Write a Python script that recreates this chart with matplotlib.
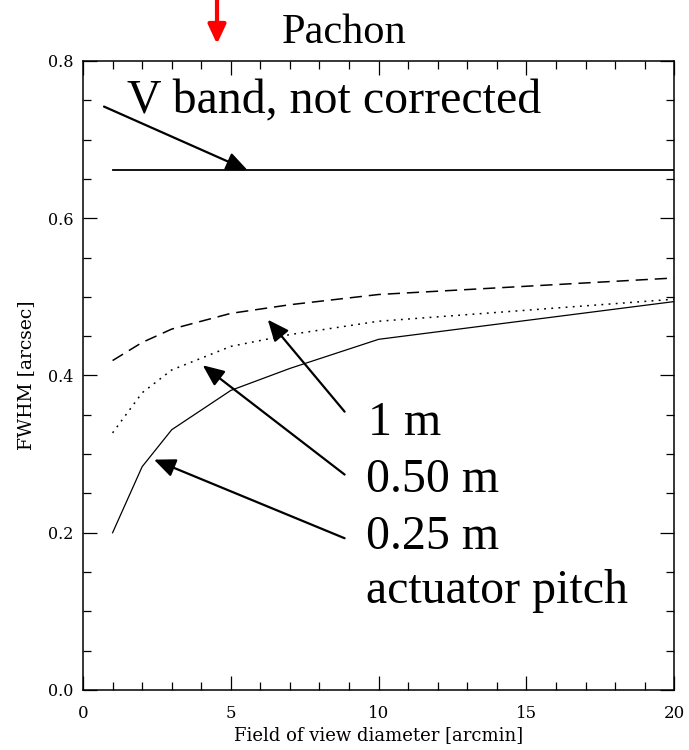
import matplotlib
matplotlib.use("Agg")
import matplotlib.pyplot as plt
from matplotlib.ticker import MultipleLocator

# field of view diameter [arcmin]
fov = [1, 2, 3, 5, 7, 10, 20]
fwhm_025 = [0.200, 0.284, 0.331, 0.381, 0.409, 0.446, 0.494]
fwhm_050 = [0.327, 0.378, 0.407, 0.437, 0.452, 0.469, 0.497]
fwhm_100 = [0.419, 0.442, 0.459, 0.479, 0.490, 0.503, 0.524]
fov_uncorr = [1, 20]
fwhm_uncorr = [0.661, 0.661]

xticks = [0, 5, 10, 15, 20]
yticks = [0.0, 0.2, 0.4, 0.6, 0.8]

fig = plt.figure(figsize=(6.89, 7.5), dpi=100)
ax = fig.add_axes([0.1205, 0.08, 0.858, 0.8387])

ax.plot(fov_uncorr, fwhm_uncorr, color='black', lw=1.3)
ax.plot(fov, fwhm_025, color='black', lw=0.9)
ax.plot(fov, fwhm_050, color='black', lw=1.1, dashes=(1.2, 3.5))
ax.plot(fov, fwhm_100, color='black', lw=1.1, dashes=(8, 4.5))

ax.set_xlim(0, 20)
ax.set_ylim(0, 0.8)
ax.xaxis.set_minor_locator(MultipleLocator(1))
ax.yaxis.set_minor_locator(MultipleLocator(0.05))
ax.tick_params(which='both', direction='in', top=True, right=True, width=0.9)
ax.tick_params(which='major', length=10)
ax.tick_params(which='minor', length=5.5)
ax.tick_params(axis='x', pad=11)
ax.tick_params(axis='y', pad=7)
ax.set_xticks(xticks)
ax.set_xticklabels([str(v) for v in xticks], family='DejaVu Serif',
                   fontsize=12, weight='medium')
ax.set_yticks(yticks)
ax.set_yticklabels(['%.1f' % v for v in yticks], family='DejaVu Serif',
                   fontsize=11.5, weight='medium')
for s in ax.spines.values():
    s.set_linewidth(1.1)

ax.set_xlabel('Field of view diameter [arcmin]', family='DejaVu Serif',
              fontsize=13, labelpad=3)
ax.set_ylabel('FWHM [arcsec]', family='DejaVu Serif', fontsize=13.5,
              labelpad=9)

serif = 'Liberation Serif'
ax.text(1.49, 0.733, 'V band, not corrected', family=serif, fontsize=34.5,
        va='baseline')
ax.text(6.72, 0.823, 'Pachon', family=serif, fontsize=30.5, va='baseline',
        clip_on=False)
ax.text(9.63, 0.324, '1 m', family=serif, fontsize=34.5, va='baseline')
ax.text(9.56, 0.252, '0.50 m', family=serif, fontsize=34.5, va='baseline')
ax.text(9.56, 0.179, '0.25 m', family=serif, fontsize=34.5, va='baseline')
ax.text(9.56, 0.111, 'actuator pitch', family=serif, fontsize=34.5,
        va='baseline')

arrow = dict(arrowstyle='-|>,head_length=0.65,head_width=0.28', color='black',
             lw=1.6, shrinkA=0, shrinkB=0, mutation_scale=20)
ax.annotate('', xy=(5.57, 0.661), xytext=(0.71, 0.742), arrowprops=arrow)
ax.annotate('', xy=(6.25, 0.471), xytext=(8.85, 0.354), arrowprops=arrow)
ax.annotate('', xy=(4.05, 0.413), xytext=(8.85, 0.274), arrowprops=arrow)
ax.annotate('', xy=(2.40, 0.293), xytext=(8.85, 0.193), arrowprops=arrow)

# red marker above the plot
red = dict(arrowstyle='-|>,head_length=0.58,head_width=0.27', color='red',
           lw=3, shrinkA=0, shrinkB=0, mutation_scale=20)
ax.annotate('', xy=(217, 750 - 44), xytext=(217, 752), xycoords='figure pixels',
            textcoords='figure pixels', arrowprops=red, annotation_clip=False)

fig.savefig('out.png', dpi=100)
